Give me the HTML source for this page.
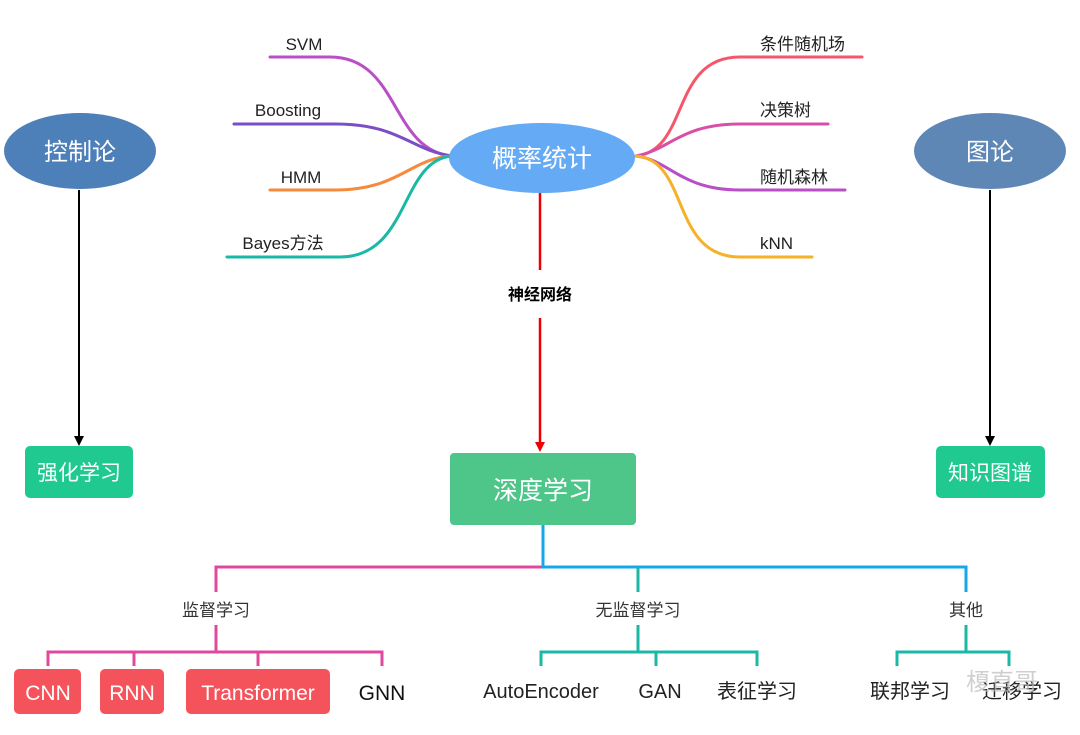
<!DOCTYPE html>
<html><head><meta charset="utf-8"><style>
html,body{margin:0;padding:0;background:#fff;}
svg text{font-family:"Liberation Sans","Noto Sans CJK SC",sans-serif;}
</style></head><body>
<svg width="1080" height="730" viewBox="0 0 1080 730" xmlns="http://www.w3.org/2000/svg">
<g fill="none" stroke-width="3" stroke-linecap="round">
<path d="M270,57 H330 C400,57 390,150 452,156" stroke="#b94fc7"/>
<path d="M234,124 H335 C400,124 410,150 452,156" stroke="#7b4fc4"/>
<path d="M270,190 H335 C400,190 410,158 452,156" stroke="#f58a3c"/>
<path d="M227,257 H340 C410,257 400,160 452,156" stroke="#1ab9a5"/>
<path d="M862,57 H740 C670,57 690,150 636,156" stroke="#f5566b"/>
<path d="M828,124 H740 C680,124 670,150 636,156" stroke="#d84fa8"/>
<path d="M845,190 H740 C680,190 670,160 636,156" stroke="#b94fc7"/>
<path d="M812,257 H740 C670,257 690,160 636,156" stroke="#f5b12a"/>
</g>
<g font-size="17" fill="#222">
<text x="304" y="50" text-anchor="middle">SVM</text>
<text x="288" y="116" text-anchor="middle">Boosting</text>
<text x="301" y="183" text-anchor="middle">HMM</text>
<text x="283" y="249" text-anchor="middle">Bayes方法</text>
<text x="760" y="50">条件随机场</text>
<text x="760" y="116">决策树</text>
<text x="760" y="183">随机森林</text>
<text x="760" y="249">kNN</text>
</g>
<ellipse cx="80" cy="151" rx="76" ry="38" fill="#4d7fb8"/>
<text x="80" y="160" font-size="24" fill="#fff" text-anchor="middle">控制论</text>
<ellipse cx="990" cy="151" rx="76" ry="38" fill="#5f87b5"/>
<text x="990" y="160" font-size="24" fill="#fff" text-anchor="middle">图论</text>
<ellipse cx="542" cy="158" rx="93" ry="35" fill="#64aaf5"/>
<text x="542" y="167" font-size="25" fill="#fff" text-anchor="middle">概率统计</text>
<line x1="79" y1="190" x2="79" y2="437" stroke="#000" stroke-width="2"/>
<path d="M74,436 L84,436 L79,446 Z" fill="#000"/>
<line x1="990" y1="190" x2="990" y2="437" stroke="#000" stroke-width="2"/>
<path d="M985,436 L995,436 L990,446 Z" fill="#000"/>
<line x1="540" y1="193" x2="540" y2="270" stroke="#e00" stroke-width="2.5"/>
<line x1="540" y1="318" x2="540" y2="443" stroke="#e00" stroke-width="2.5"/>
<path d="M535,442 L545,442 L540,452 Z" fill="#e00"/>
<text x="540" y="300" font-size="16" font-weight="bold" fill="#000" text-anchor="middle">神经网络</text>
<rect x="25" y="446" width="108" height="52" rx="5" fill="#1fc990"/>
<text x="79" y="480" font-size="21" fill="#fff" text-anchor="middle">强化学习</text>
<rect x="936" y="446" width="109" height="52" rx="5" fill="#1fc990"/>
<text x="990" y="480" font-size="21" fill="#fff" text-anchor="middle">知识图谱</text>
<rect x="450" y="453" width="186" height="72" rx="4" fill="#4ec68a"/>
<text x="543" y="499" font-size="25" fill="#fff" text-anchor="middle">深度学习</text>
<g fill="none" stroke-width="3">
<path d="M216,592 V567 H543" stroke="#e0489e"/>
<path d="M543,525 V567 H966 V592" stroke="#14a8ea"/>
<path d="M638,567 V592" stroke="#1ab9a5"/>
<path d="M216,625 V652 M48,666 V652 H382 V666 M134,652 V666 M258,652 V666" stroke="#e0489e"/>
<path d="M638,625 V652 M541,666 V652 H757 V666 M656,652 V666" stroke="#1ab9a5"/>
<path d="M966,625 V652 M897,666 V652 H1009 V666" stroke="#1ab9a5"/>
</g>
<g font-size="17" fill="#333" text-anchor="middle">
<text x="216" y="616">监督学习</text>
<text x="638" y="616">无监督学习</text>
<text x="966" y="616">其他</text>
</g>
<rect x="14" y="669" width="67" height="45" rx="5" fill="#f5535b"/>
<rect x="100" y="669" width="64" height="45" rx="5" fill="#f5535b"/>
<rect x="186" y="669" width="144" height="45" rx="5" fill="#f5535b"/>
<g font-size="21" text-anchor="middle">
<text x="48" y="700" fill="#fff">CNN</text>
<text x="132" y="700" fill="#fff">RNN</text>
<text x="258" y="700" fill="#fff">Transformer</text>
<text x="382" y="700" fill="#111">GNN</text>
<text x="541" y="698" fill="#222" font-size="20">AutoEncoder</text>
<text x="660" y="698" fill="#222" font-size="20">GAN</text>
<text x="757" y="698" fill="#222" font-size="20">表征学习</text>
<text x="910" y="698" fill="#222" font-size="20">联邦学习</text>
<text x="1022" y="698" fill="#222" font-size="20">迁移学习</text>
</g>
<text x="966" y="690" font-size="24" fill="#bbb" opacity="0.7">榎直哥</text>
</svg>
</body></html>
